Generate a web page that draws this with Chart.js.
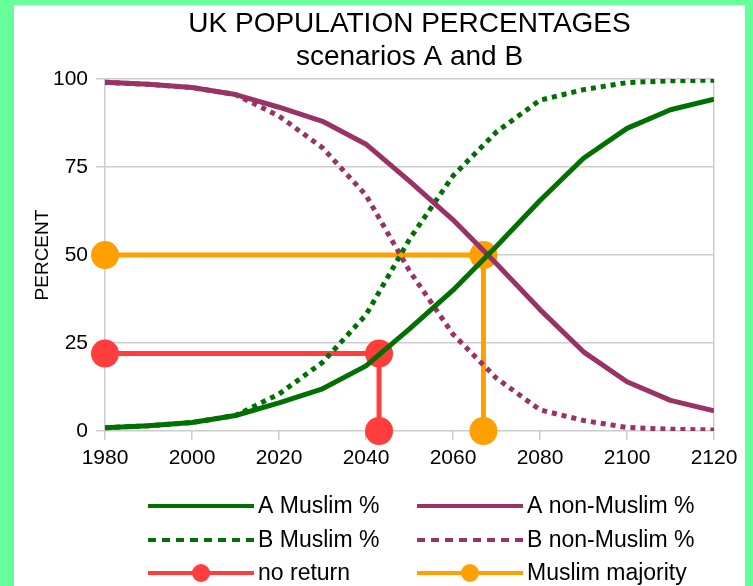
<!DOCTYPE html>
<html>
<head>
<meta charset="utf-8">
<script src="https://cdn.jsdelivr.net/npm/chart.js@4/dist/chart.umd.min.js"></script>
<style>
  body { margin: 0; background: #66ff99; }
  #box { position: absolute; left: 14px; top: 5px; width: 731px; height: 581px; background: #fff; }
</style>
</head>
<body>
<div id="box"><canvas id="popChart"></canvas></div>
<script>
// data
const years = [1980, 1990, 2000, 2010, 2020, 2030, 2040, 2050, 2060, 2070, 2080, 2090, 2100, 2110, 2120];
const aMuslim = [0.9, 1.5, 2.4, 4.4, 8, 12, 18.5, 29, 40, 52.5, 65.5, 77.5, 86, 91.3, 94.3];
const aNonMuslim = [99.1, 98.5, 97.6, 95.6, 92, 88, 81.5, 71, 60, 47.5, 34.5, 22.5, 14, 8.7, 5.7];
const bMuslim = [0.9, 1.5, 2.4, 4.4, 10.5, 19.5, 33, 54.5, 72.5, 85, 94, 97, 99, 99.5, 99.7];
const bNonMuslim = [99.1, 98.5, 97.6, 95.6, 89.5, 80.5, 67, 45.5, 27.5, 15, 6, 3, 1, 0.5, 0.3];
const noReturnX = [1980, 2043, 2043];
const noReturnY = [22, 22, 0];
const majorityX = [1980, 2067, 2067];
const majorityY = [50, 50, 0];
const xTicks = [1980, 2000, 2020, 2040, 2060, 2080, 2100, 2120];
const yTicks = [0, 25, 50, 75, 100];

const GREEN = '#007000';
const PURPLE = '#993366';
const RED = '#ff3d3d';
const ORANGE = '#ffa000';
const GRID = '#cccccc';
const FONT = "'Liberation Sans', Arial, sans-serif";

function pts(xs, ys) {
    return xs.map((x, i) => ({ x: x, y: ys[i] }));
}

// legend in two columns, drawn below the x axis
const LEGEND_COLS = [134, 403];
const LEGEND_ROWS = [501, 535, 568];
const gridLegend = {
    id: 'gridLegend',
    afterDraw(chart) {
        const ctx = chart.ctx;
        ctx.save();
        chart.data.datasets.forEach((ds, i) => {
            const x0 = LEGEND_COLS[i % 2];
            const y = LEGEND_ROWS[Math.floor(i / 2)];
            ctx.strokeStyle = ds.borderColor;
            ctx.lineWidth = 4;
            ctx.lineCap = 'butt';
            ctx.setLineDash(ds.borderDash && ds.borderDash.length ? [8, 6] : []);
            ctx.beginPath();
            ctx.moveTo(x0, y);
            ctx.lineTo(x0 + 106, y);
            ctx.stroke();
            ctx.setLineDash([]);
            if (ds.pointRadius > 0) {
                ctx.fillStyle = ds.borderColor;
                ctx.beginPath();
                ctx.arc(x0 + 53, y, 9, 0, Math.PI * 2);
                ctx.fill();
            }
            ctx.fillStyle = '#000';
            ctx.font = '23px ' + FONT;
            ctx.textBaseline = 'middle';
            ctx.fillText(ds.label, x0 + 110, y + 1);
        });
        ctx.restore();
    }
};

const ctx = document.getElementById('popChart');
new Chart(ctx, {
    type: 'line',
    data: {
        datasets: [
            { label: 'A Muslim %', data: pts(years, aMuslim), borderColor: GREEN, borderWidth: 5, pointRadius: 0 },
            { label: 'A non-Muslim %', data: pts(years, aNonMuslim), borderColor: PURPLE, borderWidth: 5, pointRadius: 0 },
            { label: 'B Muslim %', data: pts(years, bMuslim), borderColor: GREEN, borderWidth: 5, borderDash: [5, 5], pointRadius: 0 },
            { label: 'B non-Muslim %', data: pts(years, bNonMuslim), borderColor: PURPLE, borderWidth: 5, borderDash: [5, 5], pointRadius: 0 },
            { label: 'no return', data: pts(noReturnX, noReturnY), borderColor: RED, backgroundColor: RED, borderWidth: 5,
              pointRadius: 14, pointBorderWidth: 0, clip: false, order: 1 },
            { label: 'Muslim majority', data: pts(majorityX, majorityY), borderColor: ORANGE, backgroundColor: ORANGE, borderWidth: 5,
              pointRadius: 14, pointBorderWidth: 0, clip: false, order: 1 },
        ],
    },
    options: {
        responsive: true,
        maintainAspectRatio: false,
        animation: false,
        layout: { padding: { left: 17, right: 31, top: 0, bottom: 0 } },
        elements: { line: { tension: 0, borderCapStyle: 'butt', borderJoinStyle: 'round' } },
        plugins: {
            legend: { display: false },
            tooltip: { enabled: false },
            title: {
                display: true,
                fullSize: false,
                text: ['UK POPULATION PERCENTAGES', 'scenarios A and B'],
                color: '#000',
                font: { family: FONT, size: 28, weight: 'normal', lineHeight: 1.18 },
                padding: { top: 3, bottom: 5 },
            },
        },
        scales: {
            x: {
                type: 'linear',
                min: 1980,
                max: 2120,
                afterBuildTicks: (scale) => { scale.ticks = xTicks.map(v => ({ value: v })); },
                afterFit: (scale) => { scale.height = 155; },
                ticks: { color: '#000', font: { family: FONT, size: 21 }, padding: 6, maxRotation: 0,
                         callback: (v) => String(v) },
                grid: {
                    color: (c) => (c.index === xTicks.length - 1 ? GRID : 'transparent'),
                    tickColor: GRID,
                    lineWidth: 1.5,
                    tickLength: 9,
                },
                border: { display: false },
            },
            y: {
                min: 0,
                max: 100,
                afterBuildTicks: (scale) => { scale.ticks = yTicks.map(v => ({ value: v })); },
                afterFit: (scale) => { scale.width = 74; },
                ticks: { color: '#000', font: { family: FONT, size: 21 }, padding: 8 },
                grid: { color: GRID, lineWidth: 1.5, tickLength: 9 },
                border: { color: GRID, width: 1.5 },
                title: {
                    display: true,
                    text: 'PERCENT',
                    color: '#000',
                    font: { family: FONT, size: 19 },
                    padding: { top: 0, bottom: 0 },
                },
            },
        },
    },
    plugins: [gridLegend],
});
</script>
</body>
</html>
